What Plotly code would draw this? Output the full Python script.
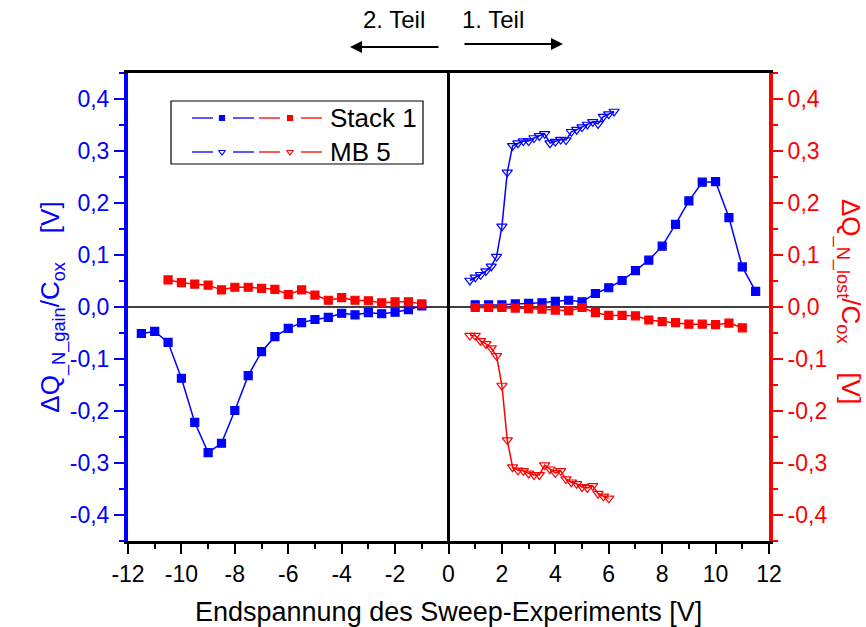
import plotly.graph_objects as go

# --- Stack 1: sweep end voltage [V] and charge shifts [V] ---
stack1_v_gain_neg = [-11.5, -11, -10.5, -10, -9.5, -9, -8.5, -8, -7.5, -7, -6.5,
                     -6, -5.5, -5, -4.5, -4, -3.5, -3, -2.5, -2, -1.5, -1]
stack1_gain_neg = [-0.051, -0.047, -0.068, -0.137, -0.222, -0.280, -0.262, -0.199,
                   -0.132, -0.086, -0.057, -0.041, -0.030, -0.024, -0.020, -0.012,
                   -0.015, -0.011, -0.013, -0.010, -0.005, 0.002]

stack1_v_lost_neg = [-10.5, -10, -9.5, -9, -8.5, -8, -7.5, -7, -6.5, -6,
                     -5.5, -5, -4.5, -4, -3.5, -3, -2.5, -2, -1.5, -1]
stack1_lost_neg = [0.052, 0.047, 0.044, 0.042, 0.033, 0.038, 0.038, 0.036, 0.034, 0.024,
                   0.033, 0.023, 0.013, 0.018, 0.013, 0.012, 0.008, 0.010, 0.010, 0.006]

stack1_v_gain_pos = [1, 1.5, 2, 2.5, 3, 3.5, 4, 4.5, 5, 5.5, 6, 6.5,
                     7, 7.5, 8, 8.5, 9, 9.5, 10, 10.5, 11, 11.5]
stack1_gain_pos = [0.004, 0.004, 0.004, 0.006, 0.007, 0.008, 0.011, 0.013, 0.010, 0.026,
                   0.037, 0.051, 0.070, 0.090, 0.117, 0.159, 0.204, 0.240, 0.241, 0.172,
                   0.077, 0.030]

stack1_v_lost_pos = [1, 1.5, 2, 2.5, 3, 3.5, 4, 4.5, 5, 5.5, 6,
                     6.5, 7, 7.5, 8, 8.5, 9, 9.5, 10, 10.5, 11]
stack1_lost_pos = [-0.001, -0.001, -0.001, -0.002, -0.003, -0.004, -0.006, -0.007, -0.001,
                   -0.011, -0.016, -0.016, -0.017, -0.025, -0.028, -0.030, -0.033, -0.033,
                   -0.034, -0.031, -0.040]

# --- MB 5 ---
mb5_v_gain = [0.8, 1.0, 1.2, 1.4, 1.6, 1.8, 2.0, 2.2, 2.4, 2.6, 2.8, 3.0, 3.2, 3.4,
              3.6, 3.8, 4.0, 4.2, 4.4, 4.6, 4.8, 5.0, 5.2, 5.4, 5.6, 5.8, 6.0, 6.2]
mb5_gain = [0.051, 0.057, 0.062, 0.069, 0.078, 0.097, 0.155, 0.259, 0.310, 0.315,
            0.319, 0.319, 0.325, 0.329, 0.333, 0.315, 0.318, 0.322, 0.321, 0.337,
            0.341, 0.346, 0.351, 0.356, 0.352, 0.366, 0.371, 0.376]

mb5_v_lost = [0.8, 1.0, 1.2, 1.4, 1.6, 1.8, 2.0, 2.2, 2.4, 2.6, 2.8, 3.0, 3.2, 3.4,
              3.6, 3.8, 4.0, 4.2, 4.4, 4.6, 4.8, 5.0, 5.2, 5.4, 5.6, 5.8, 6.0]
mb5_lost = [-0.055, -0.055, -0.065, -0.071, -0.079, -0.094, -0.151, -0.256, -0.308,
            -0.314, -0.315, -0.320, -0.323, -0.323, -0.304, -0.312, -0.319, -0.315,
            -0.331, -0.337, -0.340, -0.346, -0.348, -0.344, -0.359, -0.364, -0.368]

# --- tick labels ---
x_tickvals = [-12, -10, -8, -6, -4, -2, 0, 2, 4, 6, 8, 10, 12]
x_ticktext = ["-12", "-10", "-8", "-6", "-4", "-2", "0", "2", "4", "6", "8", "10", "12"]
y_tickvals = [-0.4, -0.3, -0.2, -0.1, 0.0, 0.1, 0.2, 0.3, 0.4]
y_ticktext = ["-0,4", "-0,3", "-0,2", "-0,1", "0,0", "0,1", "0,2", "0,3", "0,4"]

BLUE = "#0000FF"
RED = "#FF0000"
FONT = "Liberation Sans, Arial, sans-serif"

W, H = 866, 627
ML, MR, MT, MB = 128, 97, 73, 86
X_RANGE = [-12, 12]
Y_RANGE = [-0.45, 0.45]
GAP = "&nbsp;" * 4


def px_x(px):
    """Pixel column -> paper x."""
    return (px - ML) / (W - ML - MR)


def px_y(py):
    """Pixel row -> paper y."""
    return (H - MB - py) / (H - MT - MB)


fig = go.Figure()


def series(x, y, color, symbol, size, axis_y):
    fig.add_trace(go.Scatter(
        x=x, y=y, mode="lines+markers", yaxis=axis_y, showlegend=False,
        line=dict(color=color, width=1.5),
        marker=dict(symbol=symbol, size=size, color=color,
                    line=dict(color=color, width=1.2)),
        cliponaxis=False,
    ))


series(stack1_v_gain_neg, stack1_gain_neg, BLUE, "square", 8, "y")
series(stack1_v_gain_pos, stack1_gain_pos, BLUE, "square", 8, "y")
series(stack1_v_lost_neg, stack1_lost_neg, RED, "square", 8, "y2")
series(stack1_v_lost_pos, stack1_lost_pos, RED, "square", 8, "y2")
series(mb5_v_gain, mb5_gain, BLUE, "triangle-down-open", 9, "y")
series(mb5_v_lost, mb5_lost, RED, "triangle-down-open", 9, "y2")

# --- legend box, drawn on a pixel-space overlay (x3/y3) ---
legend_rows = [
    ("Stack 1", "square", 5),
    ("MB 5", "triangle-down-open", 6),
]
row_y = [118, 152]
shapes = []
for (label, symbol, msize), yy in zip(legend_rows, row_y):
    for color, (a, b, m, c, d) in ((BLUE, (192, 213, 222, 233, 254)),
                                   (RED, (259, 280, 290, 301, 322))):
        for x0, x1 in ((a, b), (c, d)):
            shapes.append(dict(type="line", xref="x3", yref="y3", x0=x0, x1=x1,
                               y0=yy, y1=yy, line=dict(color=color, width=1.3)))
        fig.add_trace(go.Scatter(
            x=[m], y=[yy], xaxis="x3", yaxis="y3", mode="markers", showlegend=False,
            marker=dict(symbol=symbol, size=msize, color=color,
                        line=dict(color=color, width=1.2)),
            hoverinfo="skip",
        ))
shapes.append(dict(type="rect", xref="x3", yref="y3", x0=171, x1=423, y0=101, y1=164,
                   line=dict(color="black", width=1.2), fillcolor="rgba(0,0,0,0)"))

annotations = []
for (label, _, _), yy in zip(legend_rows, row_y):
    annotations.append(dict(xref="paper", yref="paper", x=px_x(328), y=px_y(yy),
                            text=label, showarrow=False, xanchor="left",
                            yanchor="middle",
                            font=dict(family=FONT, size=26, color="black")))

# zero reference lines
shapes.append(dict(type="line", xref="paper", yref="y", x0=0, x1=1, y0=0, y1=0,
                   line=dict(color="black", width=1.5), layer="below"))
shapes.append(dict(type="line", xref="x", yref="paper", x0=0, x1=0, y0=0, y1=1,
                   line=dict(color="black", width=3)))

# direction labels above the plot
for text, xc in (("2. Teil", 394), ("1. Teil", 493)):
    annotations.append(dict(xref="paper", yref="paper", x=px_x(xc), y=px_y(20),
                            text=text, showarrow=False, xanchor="center",
                            yanchor="middle",
                            font=dict(family=FONT, size=24, color="black")))
for head, tail, yy in ((350, 440, 47), (563, 463, 44)):
    annotations.append(dict(xref="paper", yref="paper", x=px_x(head), y=px_y(yy),
                            ax=tail - head, ay=0, axref="pixel", ayref="pixel",
                            text="", showarrow=True, arrowhead=2, arrowsize=1.2,
                            arrowwidth=2, arrowcolor="black"))

# x-axis title
annotations.append(dict(xref="paper", yref="paper", x=0.5, y=px_y(612),
                        text="Endspannung des Sweep-Experiments [V]",
                        showarrow=False, xanchor="center", yanchor="middle",
                        font=dict(family=FONT, size=27, color="black")))

# right-hand axis title, reading top to bottom
annotations.append(dict(xref="paper", yref="paper", x=px_x(849), y=px_y(302),
                        text="ΔQ<sub>_N_lost</sub>/C<sub>ox</sub>" + GAP + "[V]",
                        textangle=90, showarrow=False, xanchor="center",
                        yanchor="middle",
                        font=dict(family=FONT, size=26, color=RED)))

tickfont = dict(family=FONT, size=23)

fig.update_layout(
    width=W, height=H,
    margin=dict(l=ML, r=MR, t=MT, b=MB),
    paper_bgcolor="white", plot_bgcolor="white",
    font=dict(family=FONT, color="black"),
    shapes=shapes, annotations=annotations,
    xaxis=dict(
        range=X_RANGE, tickvals=x_tickvals, ticktext=x_ticktext,
        showline=True, linecolor="black", linewidth=3, mirror=True,
        ticks="outside", ticklen=10, tickwidth=2, tickcolor="black",
        minor=dict(dtick=1, ticks="outside", ticklen=5, tickwidth=2, tickcolor="black"),
        showgrid=False, zeroline=False, tickfont=tickfont,
    ),
    xaxis3=dict(range=[ML, W - MR], overlaying="x", visible=False, anchor="y3"),
    yaxis=dict(
        range=Y_RANGE, tickvals=y_tickvals, ticktext=y_ticktext,
        showline=True, linecolor=BLUE, linewidth=4,
        ticks="outside", ticklen=10, tickwidth=2, tickcolor=BLUE,
        minor=dict(dtick=0.05, ticks="outside", ticklen=5, tickwidth=2, tickcolor=BLUE),
        showgrid=False, zeroline=False,
        tickfont=dict(family=FONT, size=23, color=BLUE),
        title=dict(text="ΔQ<sub>_N_gain</sub>/C<sub>ox</sub>" + GAP + "[V]",
                   font=dict(family=FONT, size=26, color=BLUE), standoff=0),
    ),
    yaxis2=dict(
        range=Y_RANGE, tickvals=y_tickvals, ticktext=y_ticktext,
        overlaying="y", side="right", anchor="x",
        showline=True, linecolor=RED, linewidth=4,
        ticks="outside", ticklen=10, tickwidth=2, tickcolor=RED,
        minor=dict(dtick=0.05, ticks="outside", ticklen=5, tickwidth=2, tickcolor=RED),
        showgrid=False, zeroline=False,
        tickfont=dict(family=FONT, size=23, color=RED),
    ),
    yaxis3=dict(range=[H - MB, MT], overlaying="y", visible=False, anchor="x3"),
)

fig.write_html("out.html")
